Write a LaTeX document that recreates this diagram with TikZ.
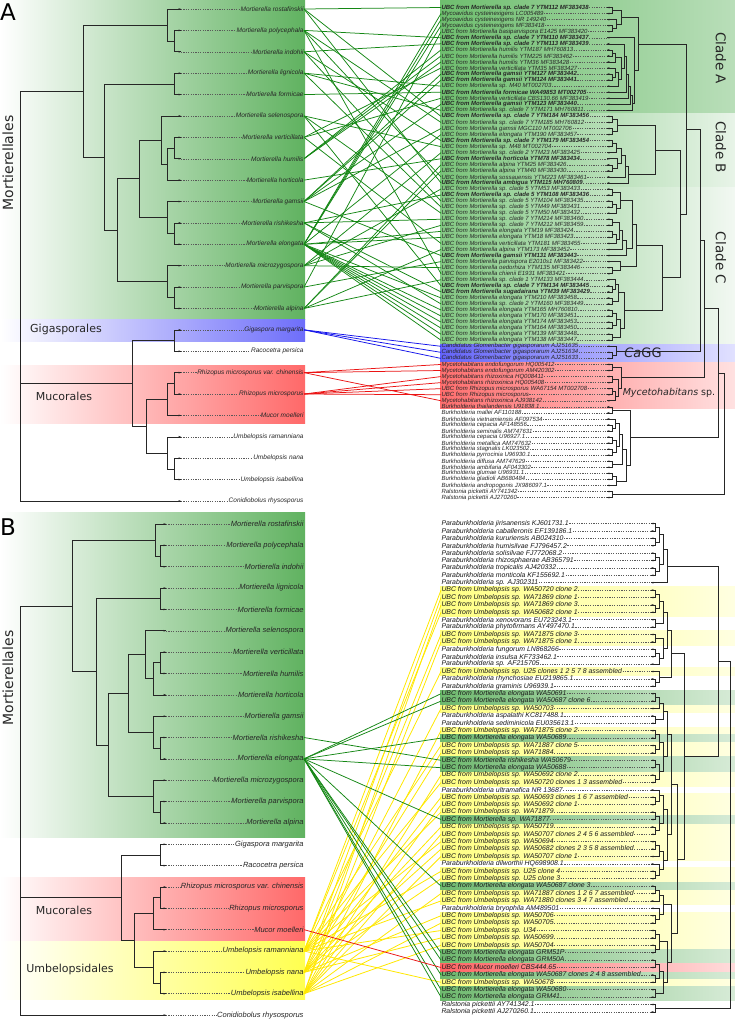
\documentclass[tikz,border=0pt]{standalone}
\usepackage{fontspec}
\setmainfont{Liberation Sans}
\newfontfamily\djv{DejaVu Sans}
\usetikzlibrary{calc}
\definecolor{lgreen}{RGB}{96,178,96}
\definecolor{lblue}{RGB}{110,110,250}
\definecolor{lred}{RGB}{255,105,105}
\definecolor{lyellow}{RGB}{255,255,80}
\definecolor{cgreen}{RGB}{20,135,20}
\definecolor{cblue}{RGB}{20,20,235}
\definecolor{cred}{RGB}{235,20,20}
\definecolor{cyellow}{RGB}{255,232,0}
\newcommand\tjoin[4]{%
  \coordinate (jnm) at ($(#3)!0.5!(#4)$);%
  \coordinate (jnx) at (#2,0);%
  \coordinate (#1) at (jnm -| jnx);%
  \draw[br] (#3) -- (#3 -| jnx) -- (#4 -| jnx) -- (#4);%
}
\def\leftnames{Mortierella rostafinskii,Mortierella polycephala,Mortierella indohii,Mortierella lignicola,Mortierella formicae,Mortierella selenospora,Mortierella verticillata,Mortierella humilis,Mortierella horticola,Mortierella gamsii,Mortierella rishikesha,Mortierella elongata,Mortierella microzygospora,Mortierella parvispora,Mortierella alpina,Gigaspora margarita,Racocetra persica,Rhizopus microsporus var. chinensis,Rhizopus microsporus,Mucor moelleri,Umbelopsis ramanniana,Umbelopsis nana,Umbelopsis isabellina,Conidiobolus rhysosporus}
\begin{document}
\begin{tikzpicture}[x=1pt,y=-1pt,
  br/.style={black!85,line width=0.6pt},
  ld/.style={black!65,line width=0.45pt,dash pattern=on 1.2pt off 1.2pt},
  lA/.style={anchor=east,inner sep=0.3pt,text=black!85,font=\fontsize{6.5}{6.5}\selectfont\itshape},
  lB/.style={anchor=east,inner sep=0.3pt,text=black!85,font=\fontsize{7.5}{7.5}\selectfont\itshape},
  rA/.style={anchor=west,inner sep=0.3pt,text=black!85,font=\fontsize{6}{6}\selectfont\itshape},
  rB/.style={anchor=west,inner sep=0.3pt,text=black!90,font=\fontsize{6.9}{6.9}\selectfont\itshape},
  cg/.style={cgreen,line width=0.75pt},
  cb/.style={cblue,line width=0.75pt},
  cr/.style={cred,line width=0.75pt},
  cy/.style={cyellow,line width=0.8pt},
  grp/.style={font=\djv\fontsize{11}{11}\selectfont,text=black!85,inner sep=0pt},
  big/.style={font=\djv\fontsize{14}{14}\selectfont,text=black!85,inner sep=0pt},
  cl/.style={font=\djv\fontsize{13.5}{13.5}\selectfont,text=black!85,inner sep=0pt,rotate=-90}]
\useasboundingbox (0,0) rectangle (735,1020);
\fill[white] (0,0) rectangle (735,1020);
% ---------- backgrounds panel A
\fill[left color=white,right color=lgreen] (0,0) rectangle (305,319);
\fill[left color=white,right color=lblue] (0,319) rectangle (305,341);
\fill[left color=white,right color=lred] (0,365) rectangle (305,423);
\fill[left color={rgb,255:red,110;green,190;blue,110},right color={rgb,255:red,185;green,222;blue,185}] (440,0) rectangle (735,113);
\fill[left color={rgb,255:red,120;green,195;blue,120},right color={rgb,255:red,232;green,244;blue,232}] (440,113) rectangle (735,187);
\fill[left color={rgb,255:red,130;green,200;blue,130},right color={rgb,255:red,242;green,248;blue,242}] (440,187) rectangle (735,344);
\fill[left color={rgb,255:red,100;green,100;blue,250},right color={rgb,255:red,225;green,225;blue,255}] (440,344) rectangle (735,362);
\fill[left color={rgb,255:red,255;green,110;blue,110},right color={rgb,255:red,255;green,225;blue,225}] (440,362) rectangle (735,408);
% ---------- backgrounds panel B
\fill[left color=white,right color=lgreen] (0,512) rectangle (305,837);
\fill[left color=white,right color=lred] (0,877) rectangle (305,941);
\fill[left color=white,right color=lyellow] (0,941) rectangle (305,999);
\foreach \i in {10,11,12,13,16,17,21,26,29,31,32,35,36,38,39,40,42,43,44,45,46,48,49,51,52,54,55,56,57,58,63}
  \fill[left color={rgb,255:red,255;green,255;blue,130},right color={rgb,255:red,255;green,255;blue,225}] (440,{523.5+(\i-1)*7.4-3.7}) rectangle (735,{523.5+(\i-1)*7.4+3.7});
\foreach \i in {24,25,30,33,34,41,50,59,60,62,64,65}
  \fill[left color={rgb,255:red,110;green,185;blue,110},right color={rgb,255:red,215;green,235;blue,215}] (440,{523.5+(\i-1)*7.4-3.7}) rectangle (735,{523.5+(\i-1)*7.4+3.7});
\fill[left color={rgb,255:red,255;green,100;blue,100},right color={rgb,255:red,255;green,220;blue,220}] (440,{523.5+60*7.4-3.7}) rectangle (735,{523.5+60*7.4+3.7});
% ---------- group labels
\node[font=\djv\fontsize{23}{23}\selectfont,anchor=west,inner sep=0pt] (pA) at (0,12) {A};
\node[font=\djv\fontsize{23}{23}\selectfont,anchor=west,inner sep=0pt] (pB) at (0,527) {B};
\node[big,rotate=90] (mortA) at (8,163) {Mortierellales};
\node[big,rotate=90] (mortB) at (8,678) {Mortierellales};
\node[grp] (gigA) at (66,329) {Gigasporales};
\node[grp] (mucA) at (64,396) {Mucorales};
\node[grp] (mucB) at (64,910) {Mucorales};
\node[grp] (umbB) at (70,969) {Umbelopsidales};
\node[cl] (cla) at (721,58) {Clade A};
\node[cl] (clb) at (721,147) {Clade B};
\node[cl] (clc) at (721,258) {Clade C};
\node[font=\djv\fontsize{13}{13}\selectfont,inner sep=0pt,text=black!85] (cagg) at (643,353) {\textit{Ca}GG};
\node[font=\djv\fontsize{9.5}{9.5}\selectfont,inner sep=0pt,text=black!85] (myc) at (669,393) {\textit{Mycetohabitans} sp.};
% ---------- left labels
\foreach \t [count=\j] in \leftnames {
  \node[lA] (la\j) at (304,{9+(\j-1)*21.39}) {\t};
  \coordinate (tla\j) at (181,{9+(\j-1)*21.39});
  \draw[ld] (tla\j) -- (la\j.west);
  \fill[black!85] (tla\j) -- ++(-2.4,-0.9) -- ++(0,1.8) -- cycle;
  \node[lB] (lb\j) at (304,{524+(\j-1)*21.35}) {\t};
  \coordinate (tlb\j) at (166,{524+(\j-1)*21.35});
  \draw[ld] (tlb\j) -- (lb\j.west);
  \fill[black!85] (tlb\j) -- ++(-2.4,-0.9) -- ++(0,1.8) -- cycle;
}
% ---------- right labels A
\foreach \t [count=\i] in {
{\bfseries UBC from Mortierella sp. clade 7 YTM112 MF383438},
Mycoavidus cysteinexigens LC005489,
Mycoavidus cysteinexigens NR 149240,
Mycoavidus cysteinexigens MF383418,
UBC from Mortierella basiparvispora E1425 MF383420,
{\bfseries UBC from Mortierella sp. clade 7 YTM110 MF383437},
{\bfseries UBC from Mortierella sp. clade 7 YTM113 MF383439},
UBC from Mortierella humilis YTM187 MH760813,
UBC from Mortierella humilis YTM225 MF383462,
UBC from Mortierella humilis YTM36 MF383428,
UBC from Mortierella verticillata YTM35 MF383427,
{\bfseries UBC from Mortierella gamsii YTM127 MF383442},
{\bfseries UBC from Mortierella gamsii YTM124 MF383441},
UBC from Mortierella sp. M40 MT002703,
{\bfseries UBC from Mortierella formicae WA49853 MT002705},
UBC from Mortierella verticillata CBS130.66 MF383419,
{\bfseries UBC from Mortierella gamsii YTM123 MF383440},
UBC from Mortierella sp. clade 7 YTM171 MH760811,
{\bfseries UBC from Mortierella sp. clade 7 YTM184 MF383456},
UBC from Mortierella sp. clade 7 YTM185 MH760812,
UBC from Mortierella gamsii MGC110 MT002706,
UBC from Mortierella elongata YTM190 MF383457,
{\bfseries UBC from Mortierella sp. clade 7 YTM179 MF383454},
UBC from Mortierella sp. M48 MT002704,
UBC from Mortierella sp. clade 2 YTM23 MF383425,
{\bfseries UBC from Mortierella horticola YTM78 MF383434},
UBC from Mortierella alpina YTM25 MF383426,
UBC from Mortierella alpina YTM40 MF383430,
UBC from Mortierella sossauensis YTM223 MF383461,
{\bfseries UBC from Mortierella ambigua YTM115 MH760809},
UBC from Mortierella sp. clade 5 YTM53 MF383433,
{\bfseries UBC from Mortierella sp. clade 5 YTM108 MF383436},
UBC from Mortierella sp. clade 5 YTM104 MF383435,
UBC from Mortierella sp. clade 5 YTM49 MF383431,
UBC from Mortierella sp. clade 5 YTM50 MF383432,
UBC from Mortierella sp. clade 7 YTM214 MF383460,
UBC from Mortierella sp. clade 7 YTM212 MF383459,
UBC from Mortierella elongata YTM19 MF383424,
UBC from Mortierella elongata YTM18 MF383423,
UBC from Mortierella verticillata YTM181 MF383455,
UBC from Mortierella alpina YTM173 MF383452,
{\bfseries UBC from Mortierella gamsii YTM131 MF383443},
UBC from Mortierella parvispora E2010s1 MF383422,
UBC from Mortierella oedorhiza YTM135 MF383446,
UBC from Mortierella chienii E1931 MF383421,
UBC from Mortierella sp. clade 1 YTM133 MF383444,
{\bfseries UBC from Mortierella sp. clade 7 YTM134 MF383445},
{\bfseries UBC from Mortierella sugadairana YTM39 MF383429},
UBC from Mortierella elongata YTM210 MF383458,
UBC from Mortierella sp. clade 2 YTM160 MF383449,
UBC from Mortierella elongata YTM165 MH760810,
UBC from Mortierella elongata YTM170 MF383451,
UBC from Mortierella elongata YTM174 MF383453,
UBC from Mortierella elongata YTM164 MF383450,
UBC from Mortierella elongata YTM139 MF383448,
UBC from Mortierella elongata YTM138 MF383447,
Candidatus Glomeribacter gigasporarum AJ251635,
Candidatus Glomeribacter gigasporarum AJ251634,
Candidatus Glomeribacter gigasporarum AJ251633,
Mycetohabitans endofungorum HQ005412,
Mycetohabitans endofungorum AM420302,
Mycetohabitans rhizoxinica HQ008411,
Mycetohabitans rhizoxinica HQ005408,
UBC from Rhizopus microsporus WA67154 MT002708,
UBC from Rhizopus microsporus,
Mycetohabitans rhizoxinica AJ938142,
Burkholderia thailandensis U91838.1,
Burkholderia mallei AF110188,
Burkholderia vietnamiensis AF097534,
Burkholderia cepacia AF148556,
Burkholderia seminalis AM747631,
Burkholderia cepacia U96927.1,
Burkholderia metallica AM747632,
Burkholderia stagnalis LK023502,
Burkholderia pyrrocinia U96930.1,
Burkholderia diffusa AM747629,
Burkholderia ambifaria AF043302,
Burkholderia glumae U96931.1,
Burkholderia gladioli AB680484,
Burkholderia andropogonis JX986097.1,
Ralstonia pickettii AY741342,
Ralstonia pickettii AJ270260} {
  \node[rA] (ra\i) at (441,{7.5+(\i-1)*6.05}) {\t};
  \coordinate (ta\i) at (607,{7.5+(\i-1)*6.05});
  \draw[ld] (ra\i.east) -- (ta\i);
  \fill[black!85] (ta\i) -- ++(2.4,-0.9) -- ++(0,1.8) -- cycle;
}
% ---------- right labels B
\foreach \t [count=\i] in {
Paraburkholderia jirisanensis KJ601731.1,
Paraburkholderia caballeronis EF139186.1,
Paraburkholderia kururiensis AB024310,
Paraburkholderia humisilvae FJ796457.2,
Paraburkholderia solisilvae FJ772068.2,
Paraburkholderia rhizosphaerae AB365791,
Paraburkholderia tropicalis AJ420332,
Paraburkholderia monticola KF155692.1,
Paraburkholderia sp. AJ302311,
UBC from Umbelopsis sp. WA50720 clone 2,
UBC from Umbelopsis sp. WA71869 clone 1,
UBC from Umbelopsis sp. WA71869 clone 3,
UBC from Umbelopsis sp. WA50682 clone 1,
Paraburkholderia xenovorans EU723243.1,
Paraburkholderia phytofirmans AY497470.1,
UBC from Umbelopsis sp. WA71875 clone 3,
UBC from Umbelopsis sp. WA71875 clone 1,
Paraburkholderia fungorum LN868266,
Paraburkholderia insulsa KF733462.1,
Paraburkholderia sp. AF215705,
UBC from Umbelopsis sp. U25 clones 1 2 5 7 8 assembled,
Paraburkholderia rhynchosiae EU219865.1,
Paraburkholderia graminis U96939.1,
UBC from Mortierella elongata WA50691,
UBC from Mortierella elongata WA50687 clone 6,
UBC from Umbelopsis sp. WA50703,
Paraburkholderia aspalathi KC817488.1,
Paraburkholderia sediminicola EU035613.1,
UBC from Umbelopsis sp. WA71875 clone 2,
UBC from Mortierella elongata WA50689,
UBC from Umbelopsis sp. WA71887 clone 5,
UBC from Umbelopsis sp. WA71884,
UBC from Mortierella rishikesha WA50679,
UBC from Mortierella elongata WA50688,
UBC from Umbelopsis sp. WA50692 clone 2,
UBC from Umbelopsis sp. WA50720 clones 1 3 assembled,
Paraburkholderia ultramafica NR 13687,
UBC from Umbelopsis sp. WA50693 clones 1 6 7 assembled,
UBC from Umbelopsis sp. WA50692 clone 1,
UBC from Umbelopsis sp. WA71879,
UBC from Mortierella sp. WA71877,
UBC from Umbelopsis sp. WA50719,
UBC from Umbelopsis sp. WA50707 clones 2 4 5 6 assembled,
UBC from Umbelopsis sp. WA50694,
UBC from Umbelopsis sp. WA50682 clones 2 3 5 8 assembled,
UBC from Umbelopsis sp. WA50707 clone 1,
Paraburkholderia dilworthii HQ698908.1,
UBC from Umbelopsis sp. U25 clone 4,
UBC from Umbelopsis sp. U25 clone 3,
UBC from Mortierella elongata WA50687 clone 3,
UBC from Umbelopsis sp. WA71887 clones 1 2 6 7 assembled,
UBC from Umbelopsis sp. WA71880 clones 3 4 7 assembled,
Paraburkholderia bryophila AM489501,
UBC from Umbelopsis sp. WA50706,
UBC from Umbelopsis sp. WA50705,
UBC from Umbelopsis sp. U34,
UBC from Umbelopsis sp. WA50699,
UBC from Umbelopsis sp. WA50704,
UBC from Mortierella elongata GRM51P,
UBC from Mortierella elongata GRM50A,
UBC from Mucor moelleri CBS444.65,
UBC from Mortierella elongata WA50687 clones 2 4 8 assembled,
UBC from Umbelopsis sp. WA50678,
UBC from Mortierella elongata WA50680,
UBC from Mortierella elongata GRM41,
Ralstonia pickettii AY741342.1,
Ralstonia pickettii AJ270260.1} {
  \node[rB] (rb\i) at (441,{523.5+(\i-1)*7.4}) {\t};
  \coordinate (tb\i) at (651,{523.5+(\i-1)*7.4});
  \draw[ld] (rb\i.east) -- (tb\i);
  \fill[black!85] (tb\i) -- ++(2.4,-0.9) -- ++(0,1.8) -- cycle;
}
% ---------- left tree A
\tjoin{L1}{174}{tla2}{tla3}
\tjoin{L2}{167}{tla1}{L1}
\tjoin{L3}{174}{tla4}{tla5}
\tjoin{L4}{174}{tla7}{tla8}
\tjoin{L5}{167}{L4}{tla9}
\tjoin{L6}{161}{tla6}{L5}
\tjoin{L7}{174}{tla11}{tla12}
\tjoin{L8}{167}{tla10}{L7}
\tjoin{L9}{139}{L6}{L8}
\tjoin{L10}{174}{tla14}{tla15}
\tjoin{L11}{167}{tla13}{L10}
\tjoin{L12}{117}{L9}{L11}
\tjoin{L13}{104}{L3}{L12}
\tjoin{L14}{83}{L2}{L13}
\tjoin{L15}{174}{tla16}{tla17}
\tjoin{L16}{174}{tla18}{tla19}
\tjoin{L17}{167}{L16}{tla20}
\tjoin{L18}{174}{tla22}{tla23}
\tjoin{L19}{167}{tla21}{L18}
\tjoin{L20}{146}{L17}{L19}
\tjoin{L21}{132}{L15}{L20}
\tjoin{L22}{20}{L14}{L21}
\tjoin{L23}{20}{L22}{tla24}
% ---------- left tree B
\tjoin{M1}{160}{tlb2}{tlb3}
\tjoin{M2}{155}{tlb1}{M1}
\tjoin{M3}{160}{tlb4}{tlb5}
\tjoin{M4}{160}{tlb7}{tlb8}
\tjoin{M5}{153}{M4}{tlb9}
\tjoin{M6}{145}{tlb6}{M5}
\tjoin{M7}{160}{tlb11}{tlb12}
\tjoin{M8}{153}{tlb10}{M7}
\tjoin{M9}{128}{M6}{M8}
\tjoin{M10}{160}{tlb14}{tlb15}
\tjoin{M11}{153}{tlb13}{M10}
\tjoin{M12}{108}{M9}{M11}
\tjoin{M13}{96}{M3}{M12}
\tjoin{M14}{72}{M2}{M13}
\tjoin{M15}{160}{tlb16}{tlb17}
\tjoin{M16}{160}{tlb18}{tlb19}
\tjoin{M17}{153}{M16}{tlb20}
\tjoin{M18}{160}{tlb22}{tlb23}
\tjoin{M19}{153}{tlb21}{M18}
\tjoin{M20}{134}{M17}{M19}
\tjoin{M21}{121}{M15}{M20}
\tjoin{M22}{20}{M14}{M21}
\tjoin{M23}{20}{M22}{tlb24}
% ---------- right tree A
\tjoin{a1}{612}{ta1}{ta2}
\tjoin{a2}{612}{ta4}{ta5}
\tjoin{a3}{616}{ta3}{a2}
\tjoin{a4}{621}{a1}{a3}
\tjoin{a5}{612}{ta8}{ta9}
\tjoin{a6}{615}{a5}{ta10}
\tjoin{a7}{612}{ta12}{ta13}
\tjoin{a8}{615}{ta11}{a7}
\tjoin{a9}{618}{a8}{ta14}
\tjoin{a10}{621}{a6}{a9}
\tjoin{a11}{624}{ta7}{a10}
\tjoin{a12}{626}{a11}{ta15}
\tjoin{a13}{628}{a12}{ta16}
\tjoin{a14}{630}{a13}{ta17}
\tjoin{a15}{632}{a14}{ta18}
\tjoin{a16}{634}{ta6}{a15}
\tjoin{cA}{638}{a4}{a16}
\tjoin{b1}{612}{ta19}{ta20}
\tjoin{b2}{612}{ta21}{ta22}
\tjoin{b3}{617}{b1}{b2}
\tjoin{b4}{612}{ta23}{ta24}
\tjoin{b5}{616}{b4}{ta25}
\tjoin{b6}{612}{ta27}{ta28}
\tjoin{b7}{617}{ta26}{b6}
\tjoin{b8}{621}{b5}{b7}
\tjoin{b9}{625}{b8}{ta29}
\tjoin{b10}{628}{b9}{ta30}
\tjoin{cB}{655}{b3}{b10}
\tjoin{c1}{612}{ta31}{ta32}
\tjoin{c2}{612}{ta33}{ta34}
\tjoin{c3}{616}{c2}{ta35}
\tjoin{c4}{620}{c1}{c3}
\tjoin{c5}{612}{ta36}{ta37}
\tjoin{c6}{612}{ta38}{ta39}
\tjoin{c7}{616}{c6}{ta40}
\tjoin{c8}{619}{c5}{c7}
\tjoin{c9}{622}{c8}{ta41}
\tjoin{c10}{626}{c9}{ta42}
\tjoin{c11}{632}{c4}{c10}
\tjoin{c12}{612}{ta44}{ta45}
\tjoin{c13}{620}{ta43}{c12}
\tjoin{c14}{636}{c11}{c13}
\tjoin{c15}{612}{ta47}{ta48}
\tjoin{c16}{615}{ta46}{c15}
\tjoin{c17}{612}{ta49}{ta50}
\tjoin{c18}{618}{c16}{c17}
\tjoin{c19}{612}{ta51}{ta52}
\tjoin{c20}{612}{ta53}{ta54}
\tjoin{c21}{616}{c19}{c20}
\tjoin{c22}{612}{ta55}{ta56}
\tjoin{c23}{620}{c21}{c22}
\tjoin{c24}{624}{c18}{c23}
\tjoin{cC}{662}{c14}{c24}
\tjoin{bc}{680}{cB}{cC}
\tjoin{abc}{686}{cA}{bc}
\tjoin{g1}{612}{ta58}{ta59}
\tjoin{g2}{616}{ta57}{g1}
\tjoin{mg}{700}{abc}{g2}
\tjoin{m1}{612}{ta60}{ta61}
\tjoin{m2}{612}{ta62}{ta63}
\tjoin{m3}{612}{ta64}{ta65}
\tjoin{m4}{615}{m3}{ta66}
\tjoin{m5}{618}{m2}{m4}
\tjoin{m6}{621}{m1}{m5}
\tjoin{mm}{704}{mg}{m6}
\tjoin{k1}{612}{ta67}{ta68}
\tjoin{k2}{612}{ta70}{ta71}
\tjoin{k3}{615}{ta69}{k2}
\tjoin{k4}{612}{ta72}{ta73}
\tjoin{k5}{612}{ta74}{ta75}
\tjoin{k6}{616}{k4}{k5}
\tjoin{k7}{619}{k3}{k6}
\tjoin{k8}{612}{ta76}{ta77}
\tjoin{k9}{622}{k7}{k8}
\tjoin{k10}{612}{ta78}{ta79}
\tjoin{k11}{616}{k10}{ta80}
\tjoin{k12}{626}{k9}{k11}
\tjoin{k13}{630}{k1}{k12}
\tjoin{mk}{718}{mm}{k13}
\tjoin{rl}{612}{ta81}{ta82}
\tjoin{rootA}{724}{mk}{rl}
% ---------- right tree B
\tjoin{p1}{655}{tb1}{tb2}
\tjoin{p2}{655}{tb3}{tb4}
\tjoin{p3}{659}{p1}{p2}
\tjoin{p4}{655}{tb5}{tb6}
\tjoin{p5}{655}{tb7}{tb8}
\tjoin{p6}{659}{p4}{p5}
\tjoin{p7}{663}{p3}{p6}
\tjoin{p8}{667}{p7}{tb9}
\tjoin{p9}{655}{tb10}{tb11}
\tjoin{p10}{655}{tb12}{tb13}
\tjoin{p11}{659}{p9}{p10}
\tjoin{p12}{655}{tb14}{tb15}
\tjoin{p13}{663}{p11}{p12}
\tjoin{p14}{655}{tb16}{tb17}
\tjoin{p15}{655}{tb18}{tb19}
\tjoin{p16}{659}{p15}{tb20}
\tjoin{p17}{663}{p14}{p16}
\tjoin{p18}{667}{p13}{p17}
\tjoin{p19}{655}{tb22}{tb23}
\tjoin{p20}{659}{tb21}{p19}
\tjoin{p21}{671}{p18}{p20}
\tjoin{p22}{655}{tb24}{tb25}
\tjoin{p23}{659}{p22}{tb26}
\tjoin{p24}{655}{tb27}{tb28}
\tjoin{p25}{663}{p23}{p24}
\tjoin{p26}{655}{tb29}{tb30}
\tjoin{p27}{655}{tb31}{tb32}
\tjoin{p28}{659}{p26}{p27}
\tjoin{p29}{655}{tb33}{tb34}
\tjoin{p30}{655}{tb35}{tb36}
\tjoin{p31}{659}{p29}{p30}
\tjoin{p32}{663}{p28}{p31}
\tjoin{p33}{667}{p25}{p32}
\tjoin{p34}{655}{tb38}{tb39}
\tjoin{p35}{659}{tb37}{p34}
\tjoin{p36}{655}{tb40}{tb41}
\tjoin{p37}{655}{tb42}{tb43}
\tjoin{p38}{659}{p36}{p37}
\tjoin{p39}{663}{p35}{p38}
\tjoin{p40}{655}{tb44}{tb45}
\tjoin{p41}{659}{p40}{tb46}
\tjoin{p42}{655}{tb48}{tb49}
\tjoin{p43}{659}{tb47}{p42}
\tjoin{p44}{663}{p41}{p43}
\tjoin{p45}{667}{p39}{p44}
\tjoin{p46}{671}{p33}{p45}
\tjoin{p47}{655}{tb50}{tb51}
\tjoin{p48}{659}{p47}{tb52}
\tjoin{p49}{655}{tb54}{tb55}
\tjoin{p50}{659}{tb53}{p49}
\tjoin{p51}{663}{p48}{p50}
\tjoin{p52}{655}{tb56}{tb57}
\tjoin{p53}{655}{tb58}{tb59}
\tjoin{p54}{659}{p52}{p53}
\tjoin{p55}{655}{tb60}{tb61}
\tjoin{p56}{655}{tb62}{tb63}
\tjoin{p57}{659}{p55}{p56}
\tjoin{p58}{655}{tb64}{tb65}
\tjoin{p59}{663}{p57}{p58}
\tjoin{p60}{667}{p54}{p59}
\tjoin{p61}{671}{p51}{p60}
\tjoin{p62}{677}{p46}{p61}
\tjoin{p63}{684}{p21}{p62}
\tjoin{p64}{718}{p8}{p63}
\tjoin{rlB}{655}{tb66}{tb67}
\tjoin{rootB}{730}{p64}{rlB}
% ---------- connectors panel A
\foreach \r/\l in {1/1,2/12,3/12,4/12,5/14,6/2,7/3,8/8,9/8,10/8,11/7,12/10,13/10,14/4,15/5,16/7,17/10,18/4,19/1,20/2,21/10,22/12,23/3,24/6,25/13,26/9,27/15,28/15,29/2,30/1,31/13,32/11,33/3,34/4,35/6,36/11,37/13,38/12,39/12,40/7,41/15,42/10,43/14,44/13,45/2,46/15,47/6,48/11,49/12,50/11,51/12,52/12,53/12,54/12,55/12,56/12}
  \draw[cg] (la\l.east) -- (ra\r.west);
\foreach \r in {57,58,59} \draw[cb] (la16.east) -- (ra\r.west);
\foreach \r/\l in {60/18,61/18,62/19,63/19,64/19,65/19,66/18}
  \draw[cr] (la\l.east) -- (ra\r.west);
% ---------- connectors panel B
\foreach \r/\l in {10/21,11/22,12/23,13/21,16/22,17/23,21/21,26/22,29/23,31/21,32/22,35/23,36/21,38/22,39/23,40/21,42/22,43/23,44/21,45/22,46/23,48/21,49/22,51/23,52/21,54/22,55/23,56/21,57/22,58/23,63/21}
  \draw[cy] (lb\l.east) -- (rb\r.west);
\draw[cg] (lb11.east) -- (rb33.west);
\foreach \r in {24,25,30,34,41,50,59,60,62,64,65} \draw[cg] (lb12.east) -- (rb\r.west);
\draw[cr] (lb20.east) -- (rb61.west);
\end{tikzpicture}
\end{document}
